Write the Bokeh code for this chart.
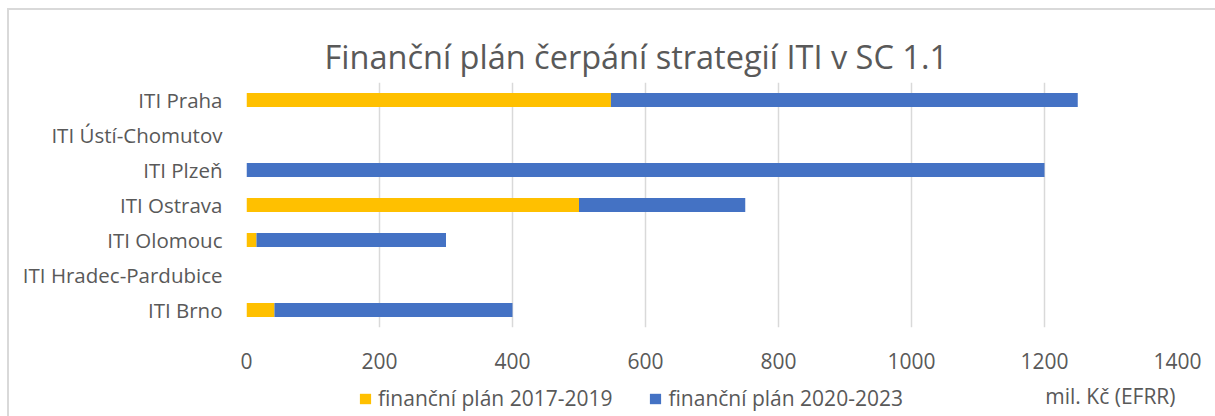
from bokeh.plotting import figure
from bokeh.models import (FactorRange, Legend, LegendItem, FixedTicker, Label,
                          Range1d, ColumnDataSource)
from bokeh.layouts import column
from bokeh.embed import file_html
from bokeh.resources import INLINE

categories = ["ITI Praha", "ITI Ústí-Chomutov", "ITI Plzeň", "ITI Ostrava",
              "ITI Olomouc", "ITI Hradec-Pardubice", "ITI Brno"]
plan_2017_2019 = [548, 0, 0, 500, 15, 0, 42]
plan_2020_2023 = [702, 0, 1200, 250, 285, 0, 358]
series_names = ["finanční plán 2017-2019", "finanční plán 2020-2023"]
x_ticks = [0, 200, 400, 600, 800, 1000, 1200, 1400]
title_text = "Finanční plán čerpání strategií ITI v SC 1.1"
axis_title = "mil. Kč (EFRR)"

FONT = "Open Sans"
TXT = "#595959"
COLORS = ["#FFC000", "#4472C4"]

source = ColumnDataSource(dict(cat=categories, a=plan_2017_2019, b=plan_2020_2023))

# main chart
p = figure(width=1206, height=372, output_backend="svg", toolbar_location=None,
           y_range=FactorRange(factors=list(reversed(categories))),
           x_range=(0, 1400), title=title_text)
p.min_border_left = 237
p.min_border_right = 38
p.min_border_top = 72
p.min_border_bottom = 55
p.outline_line_color = None

p.title.text_font = FONT
p.title.text_font_size = "32.5px"
p.title.text_font_style = "normal"
p.title.text_color = TXT
p.title.align = "left"
p.title.offset = 78
p.title.standoff = 8

p.hbar_stack(["a", "b"], y="cat", height=0.4, color=COLORS,
             source=source, line_color=None)

p.xaxis.ticker = FixedTicker(ticks=x_ticks)
p.xaxis.axis_line_color = None
p.xaxis.major_tick_line_color = None
p.xaxis.minor_tick_line_color = None
p.xaxis.major_tick_out = 0
p.xaxis.major_tick_in = 0
p.xaxis.major_label_text_font = FONT
p.xaxis.major_label_text_font_size = "21px"
p.xaxis.major_label_text_color = TXT
p.xaxis.major_label_standoff = 25

p.yaxis.axis_line_color = None
p.yaxis.major_tick_line_color = None
p.yaxis.minor_tick_line_color = None
p.yaxis.major_tick_out = 0
p.yaxis.major_tick_in = 0
p.yaxis.major_label_text_font = FONT
p.yaxis.major_label_text_font_size = "20.5px"
p.yaxis.major_label_text_color = TXT
p.yaxis.major_label_standoff = 24

p.ygrid.grid_line_color = None
p.xgrid.grid_line_color = "#d9d9d9"
p.xgrid.grid_line_width = 1.5
p.xgrid.ticker = FixedTicker(ticks=x_ticks)

# legend row: same series drawn with zero bar height, so only the legend entries show
q = figure(width=1206, height=34, output_backend="svg", toolbar_location=None,
           x_axis_location=None, y_axis_location=None,
           y_range=FactorRange(factors=list(reversed(categories))),
           x_range=Range1d(0, 1400))
q.min_border = 0
q.outline_line_color = None
q.xgrid.visible = False
q.ygrid.visible = False
rs = q.hbar_stack(["a", "b"], y="cat", height=0, color=COLORS,
                  source=source, line_color=None)

legend = Legend(items=[LegendItem(label=series_names[0], renderers=[rs[0]]),
                       LegendItem(label=series_names[1], renderers=[rs[1]])],
                orientation="horizontal", location=(112, 4),
                label_text_font=FONT, label_text_font_size="21px",
                label_text_color=TXT, glyph_width=14, glyph_height=13,
                label_standoff=6, spacing=36, border_line_color=None,
                background_fill_alpha=0, padding=0, margin=0)
q.add_layout(legend, "center")
q.add_layout(Label(x=929, y=21, x_units="screen", y_units="screen", text=axis_title,
                   text_align="right", text_baseline="middle",
                   text_font=FONT, text_font_size="21px", text_color=TXT))

layout = column(p, q, spacing=0)
layout.styles = {"border-top": "2px solid #d9d9d9", "border-left": "2px solid #d9d9d9",
                 "margin": "8px 0 0 7px"}

open("out.html", "w").write(file_html(layout, INLINE))
